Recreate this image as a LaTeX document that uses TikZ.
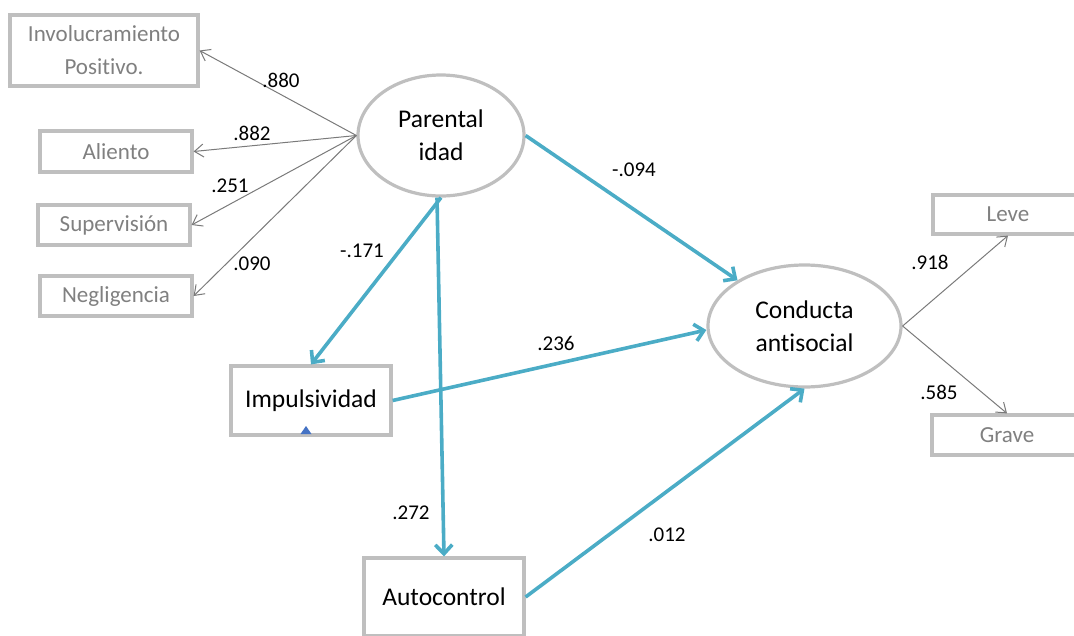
\documentclass[tikz,border=0pt]{standalone}
\usepackage{fontspec}
\setmainfont[Ligatures={NoCommon,NoContextual,NoRare},RawFeature={-liga;-clig;-dlig}]{Carlito}
\usetikzlibrary{shapes.geometric,arrows.meta}
\definecolor{pathblue}{HTML}{4BACC6}
\definecolor{boxgrey}{HTML}{BFBFBF}
\definecolor{txtgrey}{HTML}{808080}
\definecolor{lightarrow}{HTML}{7A7A7A}
\definecolor{markblue}{HTML}{4472C4}
\tikzset{
  indicator/.style={draw=boxgrey, line width=3.2pt, fill=white, text=txtgrey,
    font=\fontsize{23}{33}\selectfont, align=center, inner sep=0pt},
  observed/.style={draw=boxgrey, line width=3.2pt, fill=white, text=black,
    font=\fontsize{25.5}{33}\selectfont, align=center, inner sep=0pt},
  latent/.style={ellipse, draw=boxgrey, line width=3.2pt, fill=white, text=black,
    font=\fontsize{25.5}{33}\selectfont, align=center, inner sep=0pt},
  loading/.style={draw=lightarrow, line width=1pt,
    -{Straight Barb[length=9pt,width=13pt,line width=1pt]}},
  path/.style={draw=pathblue, line width=3.6pt,
    -{Straight Barb[length=9pt,width=17pt,line width=3.6pt]}},
  coef/.style={font=\fontsize{21}{25}\selectfont, text=black, inner sep=0pt}
}
\begin{document}
\begin{tikzpicture}[x=1pt,y=-1pt]
\useasboundingbox (0,0) rectangle (1074,635);
\clip (0,0) rectangle (1074,635);

% measurement indicators of parenting
\node[indicator, minimum width=188pt, minimum height=71pt] (invol) at (104,50.5) {Involucramiento\\Positivo.};
\node[indicator, minimum width=152pt, minimum height=41pt] (alient) at (116,151.5) {Aliento};
\node[indicator, minimum width=152pt, minimum height=40pt] (superv) at (114,225) {Supervisión};
\node[indicator, minimum width=152pt, minimum height=40pt] (neglig) at (116,296) {Negligencia};

% indicators of antisocial conduct
\node[indicator, minimum width=150pt, minimum height=39pt] (leve) at (1008,214.5) {Leve};
\node[indicator, minimum width=150pt, minimum height=40pt] (grave) at (1007,435) {Grave};

% latent variables
\node[latent, minimum width=166pt, minimum height=121pt] (parent) at (441,135.5) {Parental\\idad};
\node[latent, minimum width=193pt, minimum height=122pt] (conduct) at (804.5,326) {Conducta\\antisocial};

% observed mediators
\node[observed, minimum width=160pt, minimum height=69pt] (impuls) at (311,400.5) {Impulsividad};
\node[observed, minimum width=160pt, minimum height=78pt] (autoc) at (444,597) {Autocontrol};

% small marker under the impulsivity label
\fill[markblue] (300.5,434) -- (306,426) -- (311.5,434) -- cycle;

% loadings
\draw[loading] (parent.west) -- (invol.east);
\draw[loading] (parent.west) -- (alient.east);
\draw[loading] (parent.west) -- (superv.east);
\draw[loading] (parent.west) -- (neglig.east);
\draw[loading] (conduct.east) -- (leve.south);
\draw[loading] (conduct.east) -- (grave.north);

% structural paths
\draw[path] (parent.east) -- (conduct);
\draw[path] (parent.south) -- (impuls.north);
\draw[path] ([xshift=-4pt]parent.south) -- (autoc.north);
\draw[path] (impuls.east) -- ([yshift=-4pt]conduct.west);
\draw[path] (autoc.east) -- (conduct.south);

% coefficients
\node[coef] (c880) at (281,80) {.880};
\node[coef] (c882) at (252,133) {.882};
\node[coef] (c251) at (230,186) {.251};
\node[coef] (c090) at (252,264) {.090};
\node[coef] (c918) at (930,262) {.918};
\node[coef] (c585) at (939,392) {.585};
\node[coef] (c094) at (634,170) {-.094};
\node[coef] (c171) at (362,251) {-.171};
\node[coef] (c272) at (411,513) {.272};
\node[coef] (c236) at (556,343) {.236};
\node[coef] (c012) at (667,535) {.012};
\end{tikzpicture}
\end{document}
